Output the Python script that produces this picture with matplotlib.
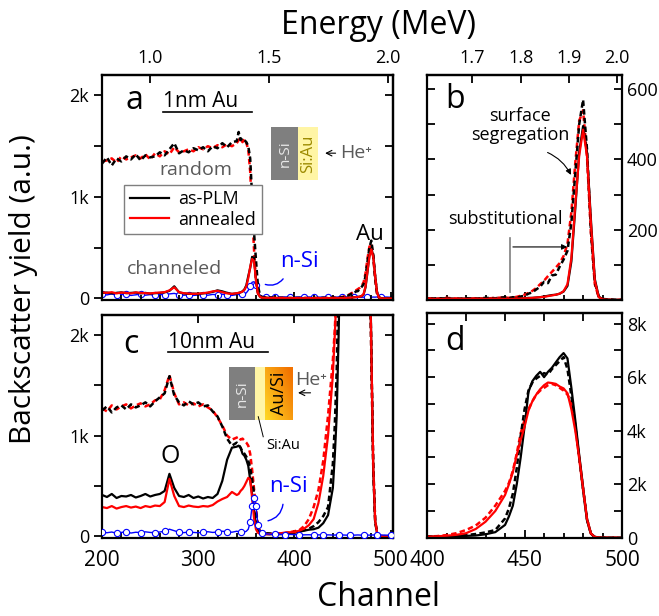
import numpy as np
import matplotlib
matplotlib.use('Agg')
import matplotlib.pyplot as plt
from matplotlib.patches import Rectangle
from matplotlib.lines import Line2D
from matplotlib.ticker import FixedLocator, FuncFormatter, MultipleLocator

plt.rcParams['font.family'] = ['Open Sans', 'DejaVu Sans']
plt.rcParams['axes.linewidth'] = 1.6

# channel grid (finer around the Si edge and the Au signal)
channel = np.concatenate([np.arange(200, 341, 5), np.arange(342, 367, 2),
                          np.arange(370, 441, 5), np.arange(442, 491, 2),
                          np.arange(492, 505, 4)])

# ---- 1nm Au (panels a, b) ----
a_rand_plm = [1330, 1390, 1310, 1380, 1350, 1400, 1370, 1420, 1360, 1410,
              1390, 1400, 1440, 1410, 1470, 1530, 1430, 1460, 1440, 1480,
              1460, 1490, 1450, 1500, 1480, 1530, 1490, 1540, 1550,
              1640, 1560, 1580, 1560, 1540, 1500, 1380, 1000, 650, 380, 130, 40, 15,
              10, 8, 5, 6, 4, 5, 3, 5, 4, 3, 5, 4, 6, 5, 8,
              5, 8, 6, 10, 12, 18, 22, 30, 38, 52, 48, 70, 72, 95, 115, 140, 220, 360, 500, 570,
              430, 200, 50, 10, 3,
              2, 1, 0, 0]
a_rand_ann = [1350, 1360, 1380, 1340, 1400, 1370, 1390, 1410, 1380, 1420,
              1370, 1430, 1400, 1450, 1420, 1490, 1440, 1450, 1470, 1450,
              1490, 1470, 1500, 1480, 1510, 1490, 1520, 1500, 1530,
              1560, 1580, 1540, 1570, 1530, 1470, 1250, 850, 480, 170, 50, 18, 10,
              8, 6, 7, 4, 6, 3, 5, 4, 6, 4, 3, 5, 4, 6, 7,
              6, 7, 9, 12, 15, 20, 26, 34, 45, 55, 68, 80, 92, 105, 125, 160, 250, 390, 510, 540,
              410, 190, 45, 8, 2,
              1, 0, 1, 0]
a_chan_plm = [55, 58, 50, 55, 60, 52, 55, 58, 50, 55,
              48, 52, 55, 60, 75, 120, 60, 50, 45, 48,
              45, 50, 55, 65, 80, 70, 55, 45, 50,
              55, 60, 70, 90, 130, 220, 300, 410, 400, 190, 60, 20, 10,
              8, 5, 6, 4, 5, 3, 4, 3, 4, 3, 4, 3, 4, 3, 4,
              3, 4, 4, 5, 5, 6, 6, 7, 8, 10, 12, 14, 15, 18, 24, 40, 110, 260, 420, 495,
              420, 230, 60, 10, 2,
              1, 0, 0, 0]
a_chan_ann = [60, 55, 62, 50, 58, 55, 50, 60, 55, 52,
              50, 55, 58, 62, 80, 110, 62, 52, 48, 45,
              48, 52, 58, 70, 75, 62, 50, 45, 52,
              55, 60, 68, 85, 120, 200, 310, 390, 370, 180, 55, 18, 8,
              6, 5, 4, 5, 4, 3, 4, 3, 3, 4, 3, 4, 3, 4, 3,
              3, 3, 4, 4, 5, 5, 6, 7, 8, 9, 11, 13, 15, 18, 25, 45, 120, 270, 410, 485,
              410, 220, 55, 8, 2,
              1, 0, 0, 0]
a_nsi = [40, 35, 45, 30, 38, 42, 30, 36, 44, 32,
         38, 30, 40, 35, 45, 50, 38, 32, 36, 30,
         34, 38, 32, 40, 36, 42, 35, 30, 38,
         40, 38, 42, 45, 55, 80, 120, 160, 165, 135, 70, 35, 20,
         18, 15, 16, 14, 15, 13, 14, 15, 13, 14, 15, 13, 14, 13, 14,
         14, 13, 15, 12, 14, 13, 15, 14, 12, 13, 14, 15, 13, 14, 12, 13, 15, 14, 13, 12,
         14, 13, 15, 14, 13,
         13, 14, 12, 13]

# ---- 10nm Au (panels c, d) ----
c_rand_plm = [1250, 1290, 1230, 1280, 1300, 1260, 1310, 1280, 1300, 1330,
              1290, 1340, 1380, 1420, 1590, 1400, 1330, 1300, 1340, 1310,
              1330, 1290, 1300, 1240, 1190, 1090, 970, 900, 930,
              910, 880, 840, 820, 790, 750, 680, 560, 430, 240, 110, 50, 35,
              30, 28, 25, 28, 30, 35, 40, 50, 60, 75, 100, 140, 200, 290, 720,
              1100, 1650, 2600, 3800, 4800, 5500, 5800, 5950, 6050, 6150, 6100, 6300, 6450, 6600, 6750,
              6300, 5300, 4200, 3000, 1800, 700, 150, 30, 8, 2,
              1, 0, 0, 0]
c_rand_ann = [1270, 1240, 1300, 1260, 1290, 1310, 1270, 1300, 1320, 1290,
              1310, 1350, 1360, 1450, 1600, 1420, 1310, 1330, 1300, 1320,
              1290, 1310, 1280, 1250, 1180, 1100, 1000, 960, 980,
              990, 960, 970, 950, 930, 900, 820, 660, 470, 280, 110, 50, 30,
              25, 22, 25, 28, 32, 40, 50, 60, 100, 170, 290, 460, 750, 1200, 1750,
              2050, 2500, 3150, 3900, 4400, 4800, 5100, 5350, 5500, 5600, 5700, 5750, 5700, 5600, 5500,
              5350, 5050, 4200, 3000, 1800, 700, 160, 30, 8, 3,
              1, 0, 0, 0]
c_chan_plm = [410, 390, 420, 380, 400, 395, 410, 385, 400, 420,
              395, 410, 420, 450, 620, 480, 400, 390, 410, 380,
              395, 375, 390, 380, 420, 550, 760, 880, 890,
              900, 880, 820, 800, 760, 700, 560, 420, 250, 110, 45, 30, 25,
              22, 20, 22, 20, 25, 30, 35, 45, 55, 65, 70, 85, 130, 210, 480,
              800, 1200, 2000, 3000, 4150, 5450, 5850, 6050, 6200, 6000, 6200, 6350, 6550, 6750, 6900,
              6700, 5600, 4400, 3100, 1900, 650, 150, 30, 8, 2,
              1, 0, 0, 0]
c_chan_ann = [290, 280, 300, 275, 290, 300, 285, 295, 280, 300,
              290, 305, 300, 340, 570, 400, 300, 290, 305, 295,
              290, 300, 295, 310, 345, 370, 390, 440, 410,
              420, 450, 470, 500, 540, 580, 560, 380, 180, 70, 35, 25, 22,
              20, 22, 25, 30, 35, 40, 40, 55, 75, 110, 170, 330, 600, 1000, 1600,
              2000, 2450, 3100, 3650, 4150, 4750, 5100, 5350, 5550, 5700, 5800, 5780, 5750, 5650, 5580,
              5400, 4800, 4000, 3000, 1850, 700, 160, 30, 8, 2,
              1, 0, 0, 0]
c_nsi = [40, 35, 42, 30, 38, 45, 32, 40, 36, 44,
         38, 35, 42, 50, 70, 55, 40, 36, 42, 38,
         35, 40, 45, 38, 42, 50, 45, 40, 50,
         45, 40, 38, 42, 50, 70, 140, 300, 384, 300, 115, 50, 30,
         25, 20, 18, 20, 15, 18, 16, 15, 14, 15, 13, 14, 13, 14, 12,
         12, 13, 11, 12, 13, 12, 11, 12, 13, 12, 11, 12, 13, 12, 11, 12, 13, 12, 11, 12,
         13, 12, 11, 12, 13,
         12, 11, 12, 11]

dash = (0, (2.2, 1.3))
TICK = 13
XTICK = 15


def ch2e(c):
    return 0.00404 * np.asarray(c) - 0.0099


def e2ch(e):
    return (np.asarray(e) + 0.0099) / 0.00404


def draw(ax, rp, ra, cp, ca):
    ax.plot(channel, ra, color='r', lw=1.8, ls=dash)
    ax.plot(channel, rp, color='k', lw=1.8, ls=dash)
    ax.plot(channel, cp, color='k', lw=1.6)
    ax.plot(channel, ca, color='r', lw=1.6)


def kfmt(v, p):
    return '0' if v == 0 else '%dk' % round(v / 1000)


def style_left(ax, top_energy):
    ax.set_xlim(200, 503)
    ax.set_ylim(-15, 2200)
    ax.xaxis.set_major_locator(MultipleLocator(100))
    ax.xaxis.set_minor_locator(MultipleLocator(20))
    ax.yaxis.set_major_locator(FixedLocator([0, 1000, 2000]))
    ax.yaxis.set_minor_locator(FixedLocator([500, 1500]))
    ax.yaxis.set_major_formatter(FuncFormatter(kfmt))
    ax.tick_params(axis='y', which='both', direction='out', right=False, labelsize=TICK,
                   width=1.3, length=6)
    ax.tick_params(axis='x', which='both', direction='in', top=False, labelsize=XTICK,
                   width=1.3, pad=9)
    ax.tick_params(axis='x', which='major', length=6)
    ax.tick_params(axis='x', which='minor', length=3.5)
    sy = ax.secondary_yaxis('right')
    sy.set_yticks([0, 1000, 2000])
    sy.yaxis.set_minor_locator(FixedLocator([500, 1500]))
    sy.tick_params(which='both', direction='in', labelright=False, length=6, width=1.3)
    if top_energy:
        sx = ax.secondary_xaxis('top', functions=(ch2e, e2ch))
        sx.set_xticks([1.0, 1.5, 2.0])
        sx.xaxis.set_major_formatter('{x:.1f}')
        sx.tick_params(direction='in', length=6, width=1.3, labelsize=TICK, pad=6)
    else:
        sx = ax.secondary_xaxis('top')
        sx.set_xticks([300, 400])
        sx.tick_params(direction='in', length=6, width=1.3, labeltop=False)


def style_right(ax, ylim, major, minor, fmt):
    ax.set_xlim(400, 500)
    ax.set_ylim(*ylim)
    ax.xaxis.set_major_locator(MultipleLocator(50))
    ax.xaxis.set_minor_locator(MultipleLocator(10))
    ax.yaxis.set_major_locator(FixedLocator(major))
    ax.yaxis.set_minor_locator(FixedLocator(minor))
    if fmt is not None:
        ax.yaxis.set_major_formatter(FuncFormatter(fmt))
    ax.tick_params(axis='both', which='both', direction='in', width=1.3, length=6,
                   left=True, right=True, top=False, labelleft=False, labelright=True)
    ax.tick_params(axis='y', labelsize=TICK)
    ax.tick_params(axis='x', labelsize=XTICK, pad=9)
    ax.tick_params(axis='x', which='minor', length=3.5)


fig = plt.figure(figsize=(6.59, 6.16), dpi=100)
ax_a = fig.add_axes([0.155, 0.513, 0.442, 0.365])
ax_b = fig.add_axes([0.648, 0.513, 0.296, 0.365])
ax_c = fig.add_axes([0.155, 0.127, 0.442, 0.362])
ax_d = fig.add_axes([0.648, 0.127, 0.296, 0.365])

gray_txt = '#5a5a5a'
he = 'He\u207a'

# panel a
draw(ax_a, a_rand_plm, a_rand_ann, a_chan_plm, a_chan_ann)
ax_a.plot(channel, a_nsi, color='b', lw=1, marker='o', ms=4.5, mfc='white', mec='b',
          mew=0.8, markevery=0.035, zorder=1)
style_left(ax_a, True)
ax_a.tick_params(axis='x', labelbottom=False)
ax_a.text(0.079, 0.889, 'a', transform=ax_a.transAxes, fontsize=23, va='center')
ax_a.text(0.21, 0.884, '1nm Au', transform=ax_a.transAxes, fontsize=15, va='center')
ax_a.plot([0.21, 0.515], [0.836, 0.836], transform=ax_a.transAxes, color='k', lw=1.2)
ax_a.text(298, 1262, 'random', color=gray_txt, fontsize=14, ha='center', va='center')
ax_a.text(275, 291, 'channeled', color=gray_txt, fontsize=14, ha='center', va='center')
ax_a.text(478, 631, 'Au', fontsize=16, ha='center', va='center')
ax_a.text(405, 369, 'n-Si', color='b', fontsize=16, ha='center', va='center')
ax_a.annotate('', xy=(367, 147), xytext=(390, 215),
              arrowprops=dict(arrowstyle='-', color='b', lw=1,
                              connectionstyle='arc3,rad=-0.4'))
leg_handles = [Line2D([], [], color='k', lw=1.6), Line2D([], [], color='r', lw=1.6)]
ax_a.legend(leg_handles, ['as-PLM', 'annealed'], loc='lower left',
            bbox_to_anchor=(0.045, 0.253), fontsize=13, fancybox=False,
            edgecolor='#7f7f7f', framealpha=1, handlelength=2.2, borderpad=0.3,
            labelspacing=0.15, handletextpad=0.5)
ax_a.add_patch(Rectangle((0.581, 0.533), 0.093, 0.236, transform=ax_a.transAxes,
                         facecolor='#7f7f7f', edgecolor='none'))
ax_a.add_patch(Rectangle((0.674, 0.533), 0.068, 0.236, transform=ax_a.transAxes,
                         facecolor='#fff5a5', edgecolor='none'))
ax_a.text(0.6275, 0.651, 'n-Si', rotation=90, color='#e8e8e8', fontsize=11,
          ha='center', va='center', transform=ax_a.transAxes)
ax_a.text(0.708, 0.651, 'Si:Au', rotation=90, color='#9c8a00', fontsize=12,
          ha='center', va='center', transform=ax_a.transAxes)
ax_a.annotate('', xy=(0.756, 0.653), xytext=(0.811, 0.653), xycoords='axes fraction',
              arrowprops=dict(arrowstyle='->', color='k', lw=0.8))
ax_a.text(0.818, 0.653, he, color=gray_txt, fontsize=14, va='center',
          transform=ax_a.transAxes)

# panel b
draw(ax_b, a_rand_plm, a_rand_ann, a_chan_plm, a_chan_ann)
style_right(ax_b, (0, 640), [200, 400, 600], [0, 100, 300, 500], None)
ax_b.tick_params(axis='x', labelbottom=False)
sxb = ax_b.secondary_xaxis('top', functions=(ch2e, e2ch))
sxb.set_xticks([1.7, 1.8, 1.9, 2.0])
sxb.xaxis.set_major_formatter('{x:.1f}')
sxb.tick_params(direction='in', length=6, width=1.3, labelsize=TICK, pad=6)
ax_b.text(0.092, 0.893, 'b', transform=ax_b.transAxes, fontsize=23, va='center')
ax_b.text(447.7, 496, 'surface\nsegregation', fontsize=13, ha='center', va='center',
          linespacing=1.05)
ax_b.annotate('', xy=(474.4, 349), xytext=(460.5, 423),
              arrowprops=dict(arrowstyle='-|>', color='k', lw=0.8, mutation_scale=8,
                              connectionstyle='arc3,rad=-0.2'))
ax_b.text(440, 230, 'substitutional', fontsize=13, ha='center', va='center')
ax_b.plot([442.6, 442.6], [23, 177], color='#7f7f7f', lw=1.2)
ax_b.annotate('', xy=(473.3, 151), xytext=(442.6, 151),
              arrowprops=dict(arrowstyle='-|>', color='k', lw=0.8, mutation_scale=8))

# panel c
draw(ax_c, c_rand_plm, c_rand_ann, c_chan_plm, c_chan_ann)
ax_c.plot(channel, c_nsi, color='b', lw=1, marker='o', ms=4.5, mfc='white', mec='b',
          mew=0.8, markevery=0.035, zorder=3)
style_left(ax_c, False)
ax_c.text(0.072, 0.865, 'c', transform=ax_c.transAxes, fontsize=23, va='center')
ax_c.text(0.227, 0.874, '10nm Au', transform=ax_c.transAxes, fontsize=15, va='center')
ax_c.plot([0.227, 0.570], [0.834, 0.834], transform=ax_c.transAxes, color='k', lw=1.2)
ax_c.text(271, 792, 'O', fontsize=18, ha='center', va='center')
ax_c.text(394, 495, 'n-Si', color='b', fontsize=16, ha='center', va='center')
ax_c.annotate('', xy=(369.7, 148), xytext=(388.4, 345),
              arrowprops=dict(arrowstyle='-', color='b', lw=1,
                              connectionstyle='arc3,rad=-0.4'))
ax_c.add_patch(Rectangle((0.436, 0.529), 0.090, 0.238, transform=ax_c.transAxes,
                         facecolor='#7f7f7f', edgecolor='none'))
ax_c.add_patch(Rectangle((0.526, 0.529), 0.034, 0.238, transform=ax_c.transAxes,
                         facecolor='#fff5a5', edgecolor='none'))
gold = ax_c.inset_axes([0.560, 0.529, 0.096, 0.238])
gx, gy = np.meshgrid(np.linspace(0, 1, 40), np.linspace(0, 1, 60))
mix = np.clip(0.6 * gx + 0.5 * (1 - gy), 0, 1)
c0 = np.array([1.0, 0.85, 0.15])
c1 = np.array([0.95, 0.45, 0.0])
grad = c0 + (c1 - c0) * mix[..., None]
gold.imshow(grad, aspect='auto', origin='upper', extent=(0, 1, 0, 1))
gold.axis('off')
gold.text(0.5, 0.5, 'Au/Si', rotation=90, color='k', fontsize=13,
          ha='center', va='center', transform=gold.transAxes)
ax_c.text(0.481, 0.648, 'n-Si', rotation=90, color='#e8e8e8', fontsize=11,
          ha='center', va='center', transform=ax_c.transAxes)
ax_c.text(0.663, 0.709, he, color=gray_txt, fontsize=14, va='center',
          transform=ax_c.transAxes)
ax_c.annotate('', xy=(0.663, 0.650), xytext=(0.725, 0.650), xycoords='axes fraction',
              arrowprops=dict(arrowstyle='->', color='k', lw=0.8))
ax_c.text(0.622, 0.413, 'Si:Au', fontsize=10.5, ha='center', va='center',
          transform=ax_c.transAxes)
ax_c.plot([0.536, 0.553], [0.543, 0.453], transform=ax_c.transAxes, color='k', lw=0.7)

# panel d
draw(ax_d, c_rand_plm, c_rand_ann, c_chan_plm, c_chan_ann)
style_right(ax_d, (0, 8400), [0, 2000, 4000, 6000, 8000], [1000, 3000, 5000, 7000], kfmt)
sxd = ax_d.secondary_xaxis('top')
sxd.set_xticks([420, 440, 460, 480])
sxd.tick_params(direction='in', length=6, width=1.3, labeltop=False)
ax_d.text(0.092, 0.871, 'd', transform=ax_d.transAxes, fontsize=23, va='center')

fig.text(0.574, 0.958, 'Energy (MeV)', ha='center', va='center', fontsize=23)
fig.text(0.574, 0.03, 'Channel', ha='center', va='center', fontsize=23)
fig.text(0.036, 0.53, 'Backscatter yield (a.u.)', rotation=90, ha='center',
         va='center', fontsize=21.5)

fig.savefig('out.png', dpi=100)
